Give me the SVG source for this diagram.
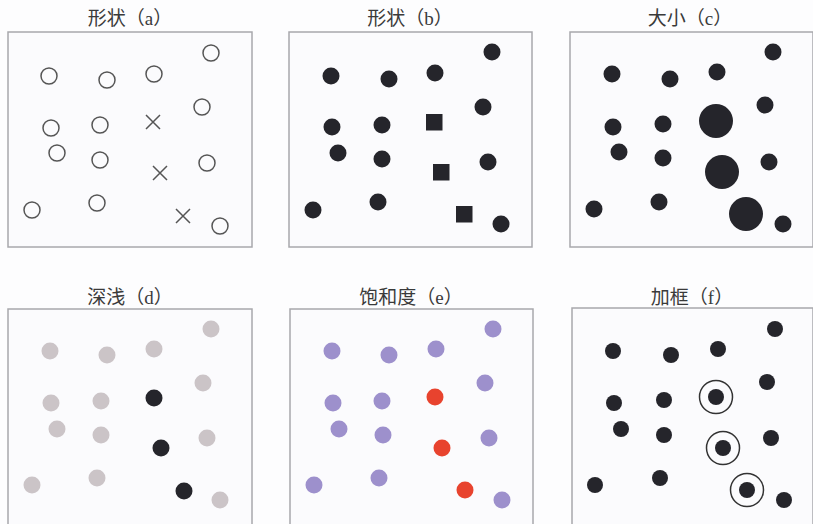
<svg xmlns="http://www.w3.org/2000/svg" width="813" height="524" viewBox="0 0 813 524">
<style>
.bg{fill:#fdfdfe}
.box{fill:#fbfbfd;stroke:#a8a8ac;stroke-width:1.5}
.t{font-family:"Liberation Serif","Noto Sans CJK SC",serif;font-size:19px;fill:#3a3a3a;text-anchor:middle}
.o{fill:none;stroke:#555;stroke-width:1.5}
.x{stroke:#555;stroke-width:1.5}
.k{fill:#25252b}
.g{fill:#cbc4c7}
.p{fill:#9d90cc}
.r{fill:#e8432e}
.ring{fill:none;stroke:#333;stroke-width:1.5}
</style>
<rect class="bg" x="0" y="0" width="813" height="524"/>

<g id="panel-a">
<rect class="box" x="8" y="32" width="244" height="215"/>
<text class="t" x="130" y="25">形状（a）</text>
<circle class="o" cx="49" cy="76" r="8"/>
<circle class="o" cx="107" cy="80" r="8"/>
<circle class="o" cx="154" cy="74" r="8"/>
<circle class="o" cx="211" cy="53" r="8"/>
<circle class="o" cx="202" cy="107" r="8"/>
<circle class="o" cx="51" cy="128" r="8"/>
<circle class="o" cx="100" cy="125" r="8"/>
<path class="x" d="M146 115L160 129M160 115L146 129"/>
<circle class="o" cx="57" cy="153" r="8"/>
<circle class="o" cx="100" cy="160" r="8"/>
<path class="x" d="M153 166L167 180M167 166L153 180"/>
<circle class="o" cx="207" cy="163" r="8"/>
<circle class="o" cx="32" cy="210" r="8"/>
<circle class="o" cx="97" cy="203" r="8"/>
<path class="x" d="M176 209L190 223M190 209L176 223"/>
<circle class="o" cx="220" cy="226" r="8"/>
</g>

<g id="panel-b">
<rect class="box" x="289" y="32" width="243" height="215"/>
<text class="t" x="410" y="25">形状（b）</text>
<g class="k">
<circle cx="331" cy="76" r="8.5"/>
<circle cx="389" cy="79" r="8.5"/>
<circle cx="435" cy="73" r="8.5"/>
<circle cx="492" cy="52" r="8.5"/>
<circle cx="483" cy="107" r="8.5"/>
<circle cx="332" cy="127" r="8.5"/>
<circle cx="382" cy="125" r="8.5"/>
<rect x="426" y="114" width="16.5" height="16.5"/>
<circle cx="338" cy="153" r="8.5"/>
<circle cx="382" cy="159" r="8.5"/>
<rect x="433" y="164" width="16.5" height="16.5"/>
<circle cx="488" cy="162" r="8.5"/>
<circle cx="313" cy="210" r="8.5"/>
<circle cx="378" cy="202" r="8.5"/>
<rect x="456" y="206" width="16.5" height="16.5"/>
<circle cx="501" cy="224" r="8.5"/>
</g>
</g>

<g id="panel-c">
<rect class="box" x="570" y="32" width="243" height="215"/>
<text class="t" x="690" y="25">大小（c）</text>
<g class="k">
<circle cx="612" cy="74" r="8.5"/>
<circle cx="670" cy="79" r="8.5"/>
<circle cx="717" cy="72" r="8.5"/>
<circle cx="773" cy="52" r="8.5"/>
<circle cx="765" cy="105" r="8.5"/>
<circle cx="716" cy="121" r="17"/>
<circle cx="613" cy="127" r="8.5"/>
<circle cx="663" cy="124" r="8.5"/>
<circle cx="619" cy="152" r="8.5"/>
<circle cx="663" cy="158" r="8.5"/>
<circle cx="722" cy="172" r="17"/>
<circle cx="769" cy="162" r="8.5"/>
<circle cx="594" cy="209" r="8.5"/>
<circle cx="659" cy="202" r="8.5"/>
<circle cx="746" cy="214" r="17"/>
<circle cx="783" cy="224" r="8.5"/>
</g>
</g>

<g id="panel-d">
<rect class="box" x="8" y="309" width="244" height="218"/>
<text class="t" x="130" y="304">深浅（d）</text>
<g class="g">
<circle cx="50" cy="351" r="8.5"/>
<circle cx="107" cy="355" r="8.5"/>
<circle cx="154" cy="349" r="8.5"/>
<circle cx="211" cy="329" r="8.5"/>
<circle cx="203" cy="383" r="8.5"/>
<circle cx="51" cy="403" r="8.5"/>
<circle cx="101" cy="401" r="8.5"/>
<circle cx="57" cy="429" r="8.5"/>
<circle cx="101" cy="435" r="8.5"/>
<circle cx="207" cy="438" r="8.5"/>
<circle cx="32" cy="485" r="8.5"/>
<circle cx="97" cy="478" r="8.5"/>
<circle cx="220" cy="500" r="8.5"/>
</g>
<g class="k">
<circle cx="154" cy="398" r="8.5"/>
<circle cx="161" cy="448" r="8.5"/>
<circle cx="184" cy="491" r="8.5"/>
</g>
</g>

<g id="panel-e">
<rect class="box" x="290" y="309" width="243" height="218"/>
<text class="t" x="411" y="304">饱和度（e）</text>
<g class="p">
<circle cx="332" cy="351" r="8.5"/>
<circle cx="389" cy="355" r="8.5"/>
<circle cx="436" cy="349" r="8.5"/>
<circle cx="493" cy="329" r="8.5"/>
<circle cx="485" cy="383" r="8.5"/>
<circle cx="333" cy="403" r="8.5"/>
<circle cx="382" cy="401" r="8.5"/>
<circle cx="339" cy="429" r="8.5"/>
<circle cx="383" cy="435" r="8.5"/>
<circle cx="489" cy="438" r="8.5"/>
<circle cx="314" cy="485" r="8.5"/>
<circle cx="379" cy="478" r="8.5"/>
<circle cx="502" cy="500" r="8.5"/>
</g>
<g class="r">
<circle cx="435" cy="397" r="8.5"/>
<circle cx="442" cy="448" r="8.5"/>
<circle cx="465" cy="490" r="8.5"/>
</g>
</g>

<g id="panel-f">
<rect class="box" x="572" y="308" width="241" height="219"/>
<text class="t" x="692" y="304">加框（f）</text>
<g class="k">
<circle cx="613" cy="351" r="8"/>
<circle cx="671" cy="355" r="8"/>
<circle cx="718" cy="349" r="8"/>
<circle cx="775" cy="329" r="8"/>
<circle cx="767" cy="382" r="8"/>
<circle cx="716" cy="397" r="8"/>
<circle cx="614" cy="403" r="8"/>
<circle cx="664" cy="400" r="8"/>
<circle cx="621" cy="429" r="8"/>
<circle cx="664" cy="435" r="8"/>
<circle cx="723" cy="448" r="8"/>
<circle cx="771" cy="438" r="8"/>
<circle cx="595" cy="485" r="8"/>
<circle cx="660" cy="478" r="8"/>
<circle cx="747" cy="490" r="8"/>
<circle cx="784" cy="500" r="8"/>
</g>
<circle class="ring" cx="716" cy="397" r="16.5"/>
<circle class="ring" cx="723" cy="448" r="16.5"/>
<circle class="ring" cx="747" cy="490" r="16.5"/>
</g>
</svg>
